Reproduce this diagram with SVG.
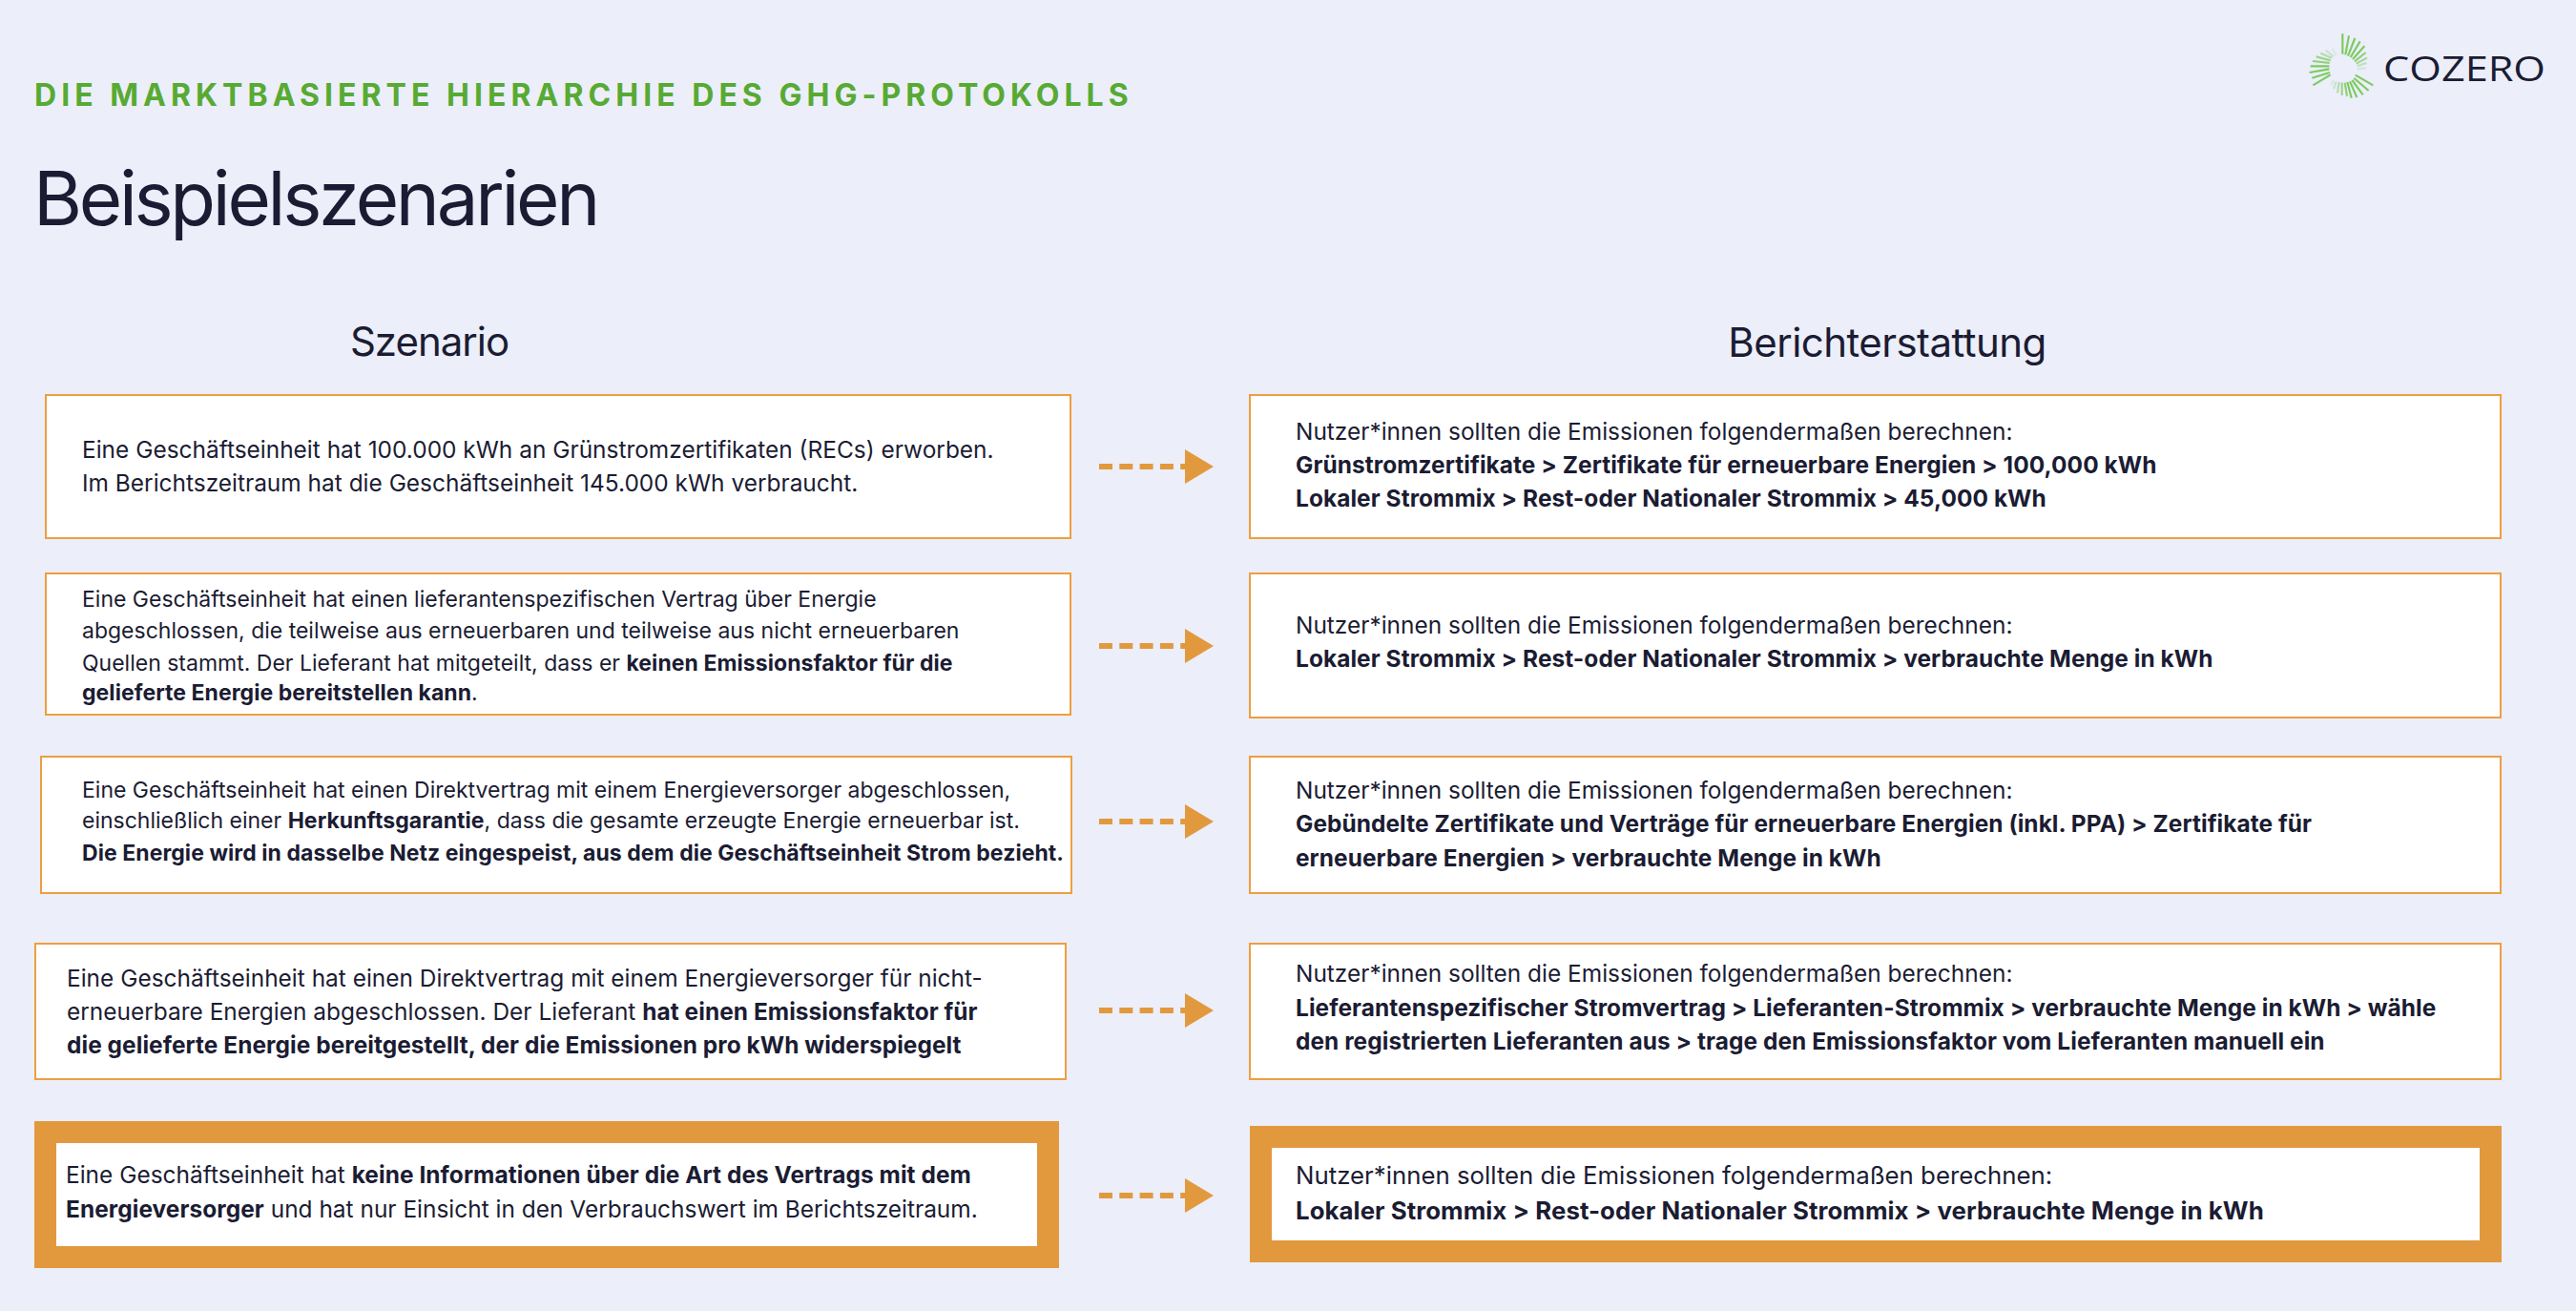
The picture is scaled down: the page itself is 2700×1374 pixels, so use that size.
<svg xmlns="http://www.w3.org/2000/svg" width="2700" height="1374" viewBox="0 0 2700 1374">
<defs>
<marker id="ah" markerUnits="userSpaceOnUse" markerWidth="30" markerHeight="36" refX="0" refY="18" orient="auto"><path d="M0 0L30 18L0 36Z" fill="#E2993E"/></marker>
</defs>
<style>
text{font-family:Inter,"Noto Sans","Liberation Sans",sans-serif;fill:#1B1C33}
.t{font-size:24.45px}
.s{font-size:23px}
.l{font-size:25.8px}
.b{font-weight:700;letter-spacing:.06px}
.box{fill:#fff;stroke:#EC9F41;stroke-width:2}
.thick{fill:#fff;stroke:#E2993E;stroke-width:23}
.arr{fill:none;stroke:#E2993E;stroke-width:6;stroke-dasharray:14 7.3}
.ray{stroke:#7CCB60;stroke-width:6.5;fill:none}
</style>
<rect width="2700" height="1374" fill="#ECEEF9"/>
<g id="header">
<text x="36" y="111" font-size="32" font-weight="700" letter-spacing="5.03" style="fill:#57AA33">DIE MARKTBASIERTE HIERARCHIE DES GHG-PROTOKOLLS</text>
<text x="35" y="236" font-size="78" letter-spacing="-3.3">Beispielszenarien</text>
<text x="450" y="373" font-size="42" letter-spacing="-1" text-anchor="middle">Szenario</text>
<text x="1978" y="374" font-size="42" letter-spacing="-0.55" text-anchor="middle">Berichterstattung</text>
</g>
<g id="logo">
<g transform="translate(2380 10) scale(.33333)" class="ray">
<path d="M226 140V76M235 142L246 82M243 146L265 90M251 150L281 100M258 156L295 115"/>
<path d="M264 163L299 135" opacity=".85"/><path d="M269 170L303 152" opacity=".65"/><path d="M272 178L301 168" opacity=".4"/><path d="M272 187L300 184" opacity=".2"/>
<path d="M205 144L195 124" opacity=".15"/><path d="M198 148L173 128" opacity=".3"/><path d="M192 152L157 137" opacity=".5"/><path d="M188 160L143 148" opacity=".7"/><path d="M185 168L132 162" opacity=".85"/>
<path d="M184 178L125 178M184 187L122 198M186 198L130 215M188 205L133 238"/>
<path d="M198 222L190 238" opacity=".15"/><path d="M206 226L198 250" opacity=".3"/><path d="M215 228L210 262" opacity=".5"/><path d="M224 230V270" opacity=".7"/><path d="M233 230L240 272" opacity=".85"/>
<path d="M241 228L254 278M249 226L271 276M256 222L290 268M262 216L308 255M266 206L322 238"/>
</g>
<text x="2498" y="85" font-size="37" style="font-family:'Open Sans',sans-serif" textLength="170" lengthAdjust="spacingAndGlyphs">COZERO</text>
</g>
<g id="connectors">
<path class="arr" d="M1152 489H1242" marker-end="url(#ah)"/>
<path class="arr" d="M1152 677H1242" marker-end="url(#ah)"/>
<path class="arr" d="M1152 861H1242" marker-end="url(#ah)"/>
<path class="arr" d="M1152 1059H1242" marker-end="url(#ah)"/>
<path class="arr" d="M1152 1253H1242" marker-end="url(#ah)"/>
</g>
<g id="s1"><rect class="box" x="48" y="414" width="1074" height="150"/>
<text class="t" x="86" y="480">Eine Geschäftseinheit hat 100.000 kWh an Grünstromzertifikaten (RECs) erworben.</text>
<text class="t" x="86" y="515">Im Berichtszeitraum hat die Geschäftseinheit 145.000 kWh verbraucht.</text></g>
<g id="s2"><rect class="box" x="48" y="601" width="1074" height="148"/>
<text class="s" x="86" y="636">Eine Geschäftseinheit hat einen lieferantenspezifischen Vertrag über Energie</text>
<text class="s" x="86" y="669">abgeschlossen, die teilweise aus erneuerbaren und teilweise aus nicht erneuerbaren</text>
<text class="s" x="86" y="703">Quellen stammt. Der Lieferant hat mitgeteilt, dass er <tspan class="b">keinen Emissionsfaktor für die</tspan></text>
<text class="s" x="86" y="734"><tspan class="b">gelieferte Energie bereitstellen kann</tspan>.</text></g>
<g id="s3"><rect class="box" x="43" y="793" width="1080" height="143"/>
<text class="s" x="86" y="836">Eine Geschäftseinheit hat einen Direktvertrag mit einem Energieversorger abgeschlossen,</text>
<text class="s" x="86" y="868">einschließlich einer <tspan class="b">Herkunftsgarantie</tspan>, dass die gesamte erzeugte Energie erneuerbar ist.</text>
<text class="s b" x="86" y="902">Die Energie wird in dasselbe Netz eingespeist, aus dem die Geschäftseinheit Strom bezieht.</text></g>
<g id="s4"><rect class="box" x="37" y="989" width="1080" height="142"/>
<text class="t" x="70" y="1034">Eine Geschäftseinheit hat einen Direktvertrag mit einem Energieversorger für nicht-</text>
<text class="t" x="70" y="1069">erneuerbare Energien abgeschlossen. Der Lieferant <tspan class="b">hat einen Emissionsfaktor für</tspan></text>
<text class="t b" x="70" y="1104">die gelieferte Energie bereitgestellt, der die Emissionen pro kWh widerspiegelt</text></g>
<g id="s5"><rect class="thick" x="47.5" y="1186.5" width="1051" height="131"/>
<text class="t" x="69" y="1240">Eine Geschäftseinheit hat <tspan class="b">keine Informationen über die Art des Vertrags mit dem</tspan></text>
<text class="t" x="69" y="1276"><tspan class="b">Energieversorger</tspan> und hat nur Einsicht in den Verbrauchswert im Berichtszeitraum.</text></g>
<g id="r1"><rect class="box" x="1310" y="414" width="1311" height="150"/>
<text class="t" x="1358" y="461">Nutzer*innen sollten die Emissionen folgendermaßen berechnen:</text>
<text class="t b" x="1358" y="496">Grünstromzertifikate &gt; Zertifikate für erneuerbare Energien &gt; 100,000 kWh</text>
<text class="t b" x="1358" y="531">Lokaler Strommix &gt; Rest-oder Nationaler Strommix &gt; 45,000 kWh</text></g>
<g id="r2"><rect class="box" x="1310" y="601" width="1311" height="151"/>
<text class="t" x="1358" y="664">Nutzer*innen sollten die Emissionen folgendermaßen berechnen:</text>
<text class="t b" x="1358" y="699">Lokaler Strommix &gt; Rest-oder Nationaler Strommix &gt; verbrauchte Menge in kWh</text></g>
<g id="r3"><rect class="box" x="1310" y="793" width="1311" height="143"/>
<text class="t" x="1358" y="837">Nutzer*innen sollten die Emissionen folgendermaßen berechnen:</text>
<text class="t b" x="1358" y="872">Gebündelte Zertifikate und Verträge für erneuerbare Energien (inkl. PPA) &gt; Zertifikate für</text>
<text class="t b" x="1358" y="908">erneuerbare Energien &gt; verbrauchte Menge in kWh</text></g>
<g id="r4"><rect class="box" x="1310" y="989" width="1311" height="142"/>
<text class="t" x="1358" y="1029">Nutzer*innen sollten die Emissionen folgendermaßen berechnen:</text>
<text class="t b" x="1358" y="1065">Lieferantenspezifischer Stromvertrag &gt; Lieferanten-Strommix &gt; verbrauchte Menge in kWh &gt; wähle</text>
<text class="t b" x="1358" y="1100">den registrierten Lieferanten aus &gt; trage den Emissionsfaktor vom Lieferanten manuell ein</text></g>
<g id="r5"><rect class="thick" x="1321.5" y="1191.5" width="1289" height="120"/>
<text class="l" x="1358" y="1241">Nutzer*innen sollten die Emissionen folgendermaßen berechnen:</text>
<text class="l b" x="1358" y="1278">Lokaler Strommix &gt; Rest-oder Nationaler Strommix &gt; verbrauchte Menge in kWh</text></g>
</svg>
